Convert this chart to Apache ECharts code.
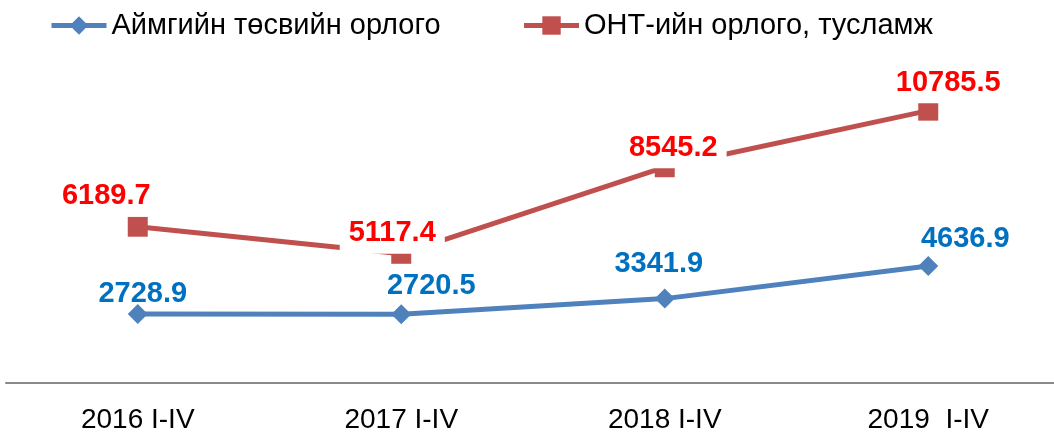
<!DOCTYPE html>
<html><head><meta charset="utf-8">
<script src="https://cdn.jsdelivr.net/npm/echarts@6/dist/echarts.min.js"></script>
<style>html,body{margin:0;padding:0;background:#fff}#c{width:1054px;height:433px}</style>
</head><body><div id="c"></div>
<script>
const categories = ['2016 I-IV', '2017 I-IV', '2018 I-IV', '2019  I-IV'];
const seriesNames = ['Аймгийн төсвийн орлого', 'ОНТ-ийн орлого, тусламж'];
const budgetValues = [2728.9, 2720.5, 3341.9, 4636.9];
const transferValues = [6189.7, 5117.4, 8545.2, 10785.5];
const budgetLabelOffsets = [[5, -20], [30, -28.5], [-6, -34.5], [37, -26.5]];
const transferLabelOffsets = [[-31.5, -30.5], [-9, -20.5], [8.5, -19.5], [20, -28]];

const FONT = '"Liberation Sans", Arial, sans-serif';
function mk(vals, offs) {
  return vals.map((v, i) => ({ value: v, label: { offset: offs[i] } }));
}
const chart = echarts.init(document.getElementById('c'), null, { renderer: 'canvas' });
chart.setOption({
  animation: false,
  legend: {
    top: 6, left: 44, itemWidth: 55, itemHeight: 23, itemGap: 81,
    lineStyle: { width: 5 },
    textStyle: { fontFamily: FONT, fontSize: 29, color: '#000' },
    data: seriesNames
  },
  grid: { left: 6, top: 80, width: 1054, bottom: 50, containLabel: false, outerBoundsMode: 'none' },
  xAxis: {
    type: 'category', data: categories, boundaryGap: true,
    axisTick: { show: false },
    axisLine: { lineStyle: { color: '#898989', width: 2 } },
    axisLabel: { fontFamily: FONT, fontSize: 28, color: '#000', margin: 23 }
  },
  yAxis: { type: 'value', min: 0, max: 12000, show: false, splitLine: { show: false } },
  series: [
    {
      name: seriesNames[0], type: 'line', data: mk(budgetValues, budgetLabelOffsets),
      symbol: 'diamond', symbolSize: 20,
      lineStyle: { color: '#4F81BD', width: 5 },
      itemStyle: { color: '#4F81BD' },
      label: {
        show: true, position: 'inside', fontFamily: FONT, fontSize: 29, fontWeight: 'bold',
        color: '#0070C0'
      },
      z: 3
    },
    {
      name: seriesNames[1], type: 'line', data: mk(transferValues, transferLabelOffsets),
      symbol: 'rect', symbolSize: 20,
      lineStyle: { color: '#C0504D', width: 5 },
      itemStyle: { color: '#C0504D' },
      label: {
        show: true, position: 'inside', fontFamily: FONT, fontSize: 29, fontWeight: 'bold',
        color: '#FF0000', backgroundColor: '#fff', padding: [6, 9]
      },
      z: 2
    }
  ]
});
</script></body></html>
